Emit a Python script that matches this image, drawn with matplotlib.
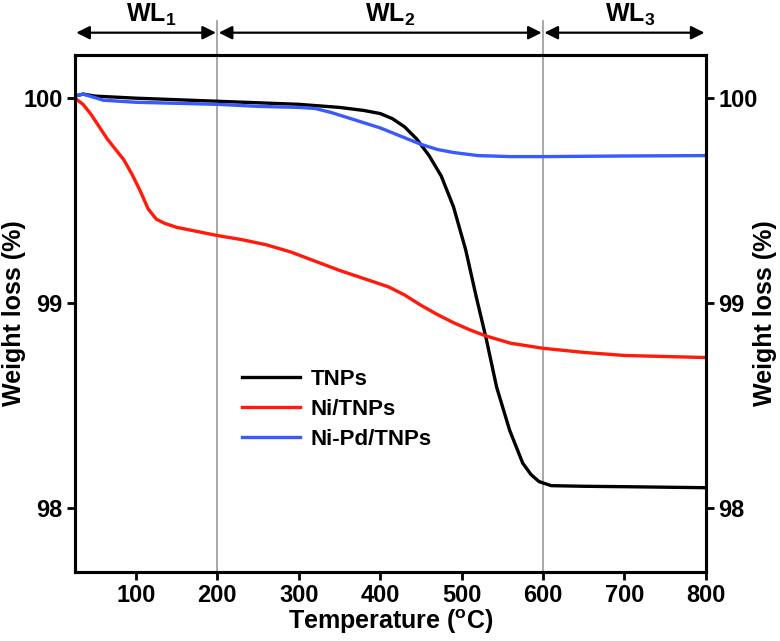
import matplotlib
matplotlib.use("Agg")
import matplotlib.pyplot as plt
import matplotlib.transforms as mtransforms

plt.rcParams['font.family'] = ['Liberation Sans', 'DejaVu Sans']
plt.rcParams['font.weight'] = 'bold'
plt.rcParams['axes.labelweight'] = 'bold'
plt.rcParams['mathtext.fontset'] = 'custom'
plt.rcParams['mathtext.rm'] = 'Liberation Sans:bold'
plt.rcParams['mathtext.bf'] = 'Liberation Sans:bold'

# TGA curves (temperature in degC, weight in %)
t_tnp = [25, 35, 50, 100, 200, 300, 350, 380, 400, 415, 430, 445, 460, 475,
         490, 505, 518, 530, 543, 559, 575, 585, 595, 610, 650, 700, 800]
w_tnp = [100.01, 100.02, 100.01, 100.0, 99.985, 99.97, 99.955, 99.94, 99.925,
         99.90, 99.86, 99.80, 99.72, 99.62, 99.47, 99.26, 99.03, 98.83, 98.59,
         98.38, 98.22, 98.165, 98.13, 98.11, 98.107, 98.105, 98.10]

t_ni = [25, 35, 45, 55, 65, 75, 85, 95, 105, 115, 125, 135, 150, 175, 200,
        230, 260, 290, 320, 350, 380, 410, 430, 450, 470, 490, 510, 530, 560,
        600, 650, 700, 750, 800]
w_ni = [100.0, 99.97, 99.92, 99.86, 99.80, 99.75, 99.70, 99.63, 99.55, 99.46,
        99.41, 99.39, 99.37, 99.35, 99.33, 99.31, 99.285, 99.25, 99.205, 99.16,
        99.12, 99.08, 99.04, 98.99, 98.945, 98.905, 98.87, 98.84, 98.805,
        98.78, 98.76, 98.745, 98.74, 98.735]

t_nipd = [25, 35, 60, 100, 200, 250, 300, 320, 340, 360, 380, 400, 425, 450,
          470, 490, 520, 560, 600, 700, 800]
w_nipd = [100.01, 100.02, 99.99, 99.98, 99.97, 99.96, 99.955, 99.95, 99.93,
          99.905, 99.88, 99.855, 99.815, 99.775, 99.75, 99.735, 99.72, 99.715,
          99.715, 99.718, 99.72]

labels = ['TNPs', 'Ni/TNPs', 'Ni-Pd/TNPs']
colors = ['#000000', '#ff1a0a', '#3a5afe']

regions = [(25, 200, r'WL$_{1}$', 119), (200, 600, r'WL$_{2}$', 412),
           (600, 800, r'WL$_{3}$', 707)]
bounds = [200, 600]

fig = plt.figure(figsize=(7.8, 6.41), dpi=100)
ax = fig.add_axes([0.096, 0.108, 0.809, 0.806])

for t, w, lab, c in zip([t_tnp, t_ni, t_nipd], [w_tnp, w_ni, w_nipd], labels, colors):
    ax.plot(t, w, color=c, lw=2.4, label=lab, solid_joinstyle='round')

ax.set_xlim(25, 800)
ax.set_ylim(97.69, 100.21)
ax.set_xticks([100, 200, 300, 400, 500, 600, 700, 800])
ax.set_yticks([98, 99, 100])
for s in ax.spines.values():
    s.set_linewidth(2.2)
ax.tick_params(direction='out', length=6, width=2, labelsize=17, pad=3)
ax.set_xlabel(r'Temperature ($^{\mathbf{o}}$C)', fontsize=18, labelpad=0)
ax.set_ylabel('Weight loss (%)', fontsize=18)
ax.yaxis.set_label_coords(-0.078, 0.5)

ax2 = ax.twinx()
ax2.set_ylim(ax.get_ylim())
ax2.set_yticks([98, 99, 100])
ax2.tick_params(direction='out', length=6, width=2, labelsize=17, pad=3)
ax2.set_ylabel('Weight loss (%)', fontsize=18)
ax2.yaxis.set_label_coords(1.075, 0.5)
for s in ax2.spines.values():
    s.set_linewidth(2.2)

# grey boundary lines reaching up into the arrow area
trans = mtransforms.blended_transform_factory(ax.transData, fig.transFigure)
for b in bounds:
    ax.plot([b, b], [0.108, 0.968], transform=trans, color='#9a9a9a', lw=1.2,
            clip_on=False, zorder=0)

for x0, x1, txt, xc in regions:
    ax.annotate('', xy=(x1, 0.949), xytext=(x0, 0.949), xycoords=trans,
                textcoords=trans,
                arrowprops=dict(arrowstyle='<|-|>', color='black', lw=1.6,
                                mutation_scale=20, shrinkA=1, shrinkB=1))
    fig.text(xc, 0.976, txt, transform=trans, fontsize=18, ha='center',
             va='center')

ax.legend(loc='upper left', bbox_to_anchor=(0.265, 0.393), frameon=False,
          fontsize=16, handlelength=2.6, handletextpad=0.5, labelspacing=0.4,
          borderpad=0, borderaxespad=0)

fig.savefig('out.png', dpi=100)
